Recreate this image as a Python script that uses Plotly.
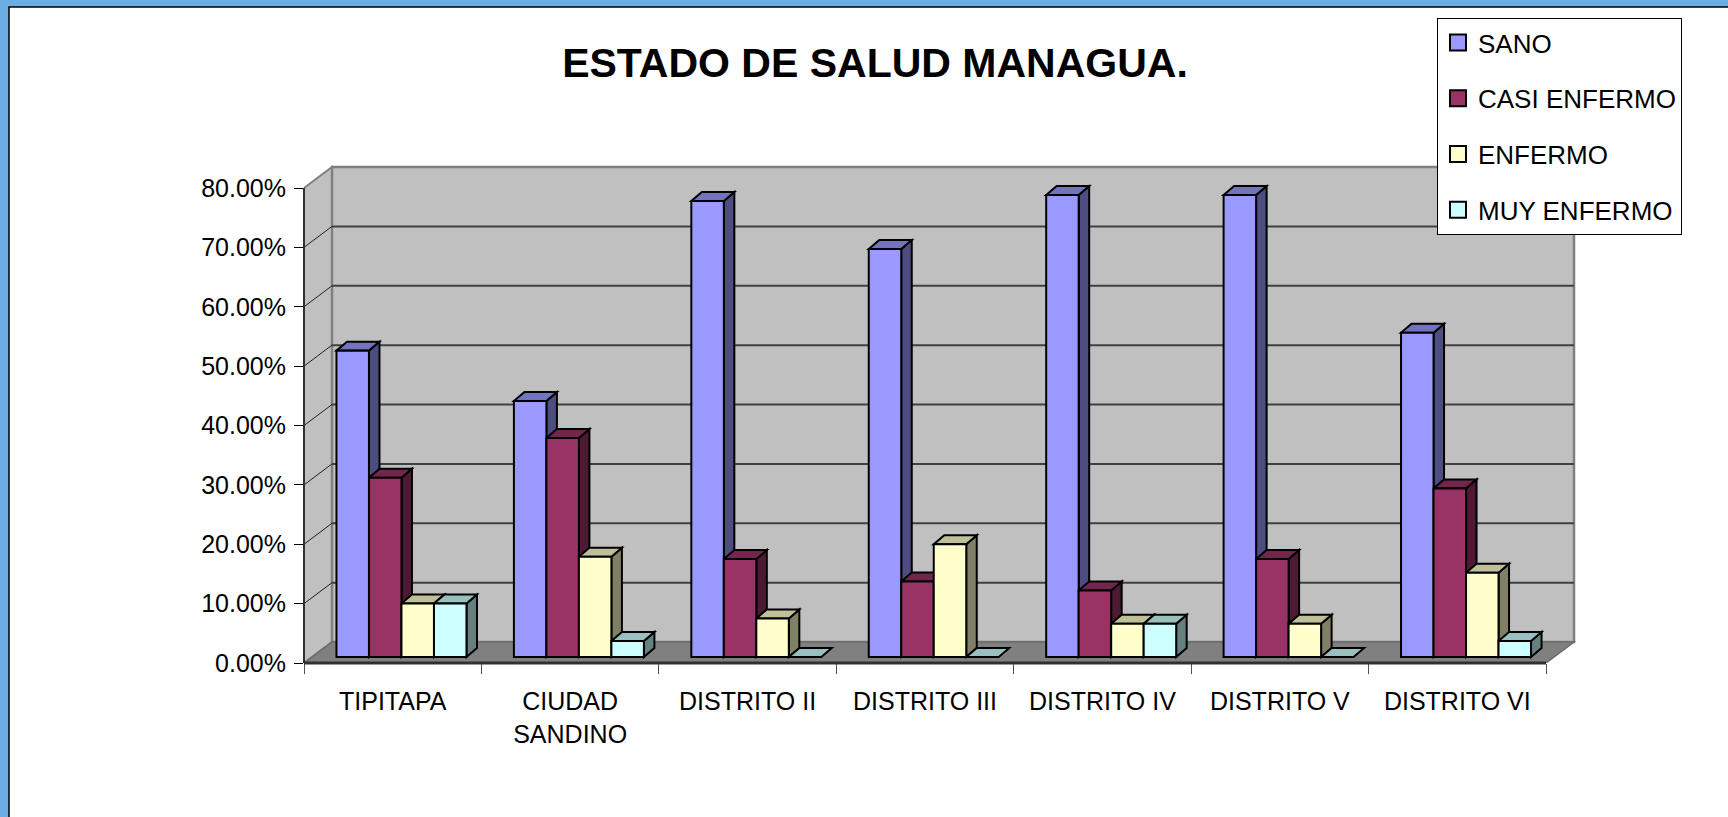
import plotly.graph_objects as go

# ---------------- data ----------------
categories = ["TIPITAPA", "CIUDAD<br>SANDINO", "DISTRITO II", "DISTRITO III",
              "DISTRITO IV", "DISTRITO V", "DISTRITO VI"]
series_names = ["SANO", "CASI ENFERMO", "ENFERMO", "MUY ENFERMO"]
sano = [0.516, 0.431, 0.768, 0.687, 0.778, 0.778, 0.546]
casi_enfermo = [0.302, 0.369, 0.165, 0.127, 0.112, 0.165, 0.284]
enfermo = [0.090, 0.169, 0.065, 0.190, 0.056, 0.056, 0.142]
muy_enfermo = [0.090, 0.027, 0.0, 0.0, 0.056, 0.0, 0.027]
y_tick_values = [0.0, 0.1, 0.2, 0.3, 0.4, 0.5, 0.6, 0.7, 0.8]
title_text = "ESTADO DE SALUD MANAGUA."

series_values = [sano, casi_enfermo, enfermo, muy_enfermo]

# ---------------- style ----------------
front_colors = ["#9999FF", "#993366", "#FFFFCC", "#CCFFFF"]
top_colors = ["#7373BF", "#73264D", "#BFBF99", "#99BFBF"]
side_colors = ["#4D4D80", "#4D1A33", "#808066", "#668080"]
FONT = "Liberation Sans, Arial, sans-serif"

W, H = 1728, 817
LEFT_PX = 304          # front vertical axis
FLOOR_PX = 663         # front floor line
CAT_PX = 177.43        # pixels per category
UNIT_PX = 593.75       # pixels per 1.0 (=100%)
DEPTH_DX_PX, DEPTH_DY_PX, PAD_PX = 28, 21, 3
BAR_W = 32.5 / CAT_PX
GROUP_START = -0.317
BAR_DX = 10.5 / CAT_PX
BAR_DY = 9 / UNIT_PX
BAR_BASE = 6 / UNIT_PX

ncat = len(categories)
ymax_tick = max(y_tick_values)
DX = DEPTH_DX_PX / CAT_PX
DY = DEPTH_DY_PX / UNIT_PX
x_lo = -0.5
x_hi = ncat - 0.5 + (DEPTH_DX_PX + PAD_PX) / CAT_PX
y_hi = ymax_tick + (DEPTH_DY_PX + PAD_PX) / UNIT_PX
plot_w = (x_hi - x_lo) * CAT_PX
plot_h = y_hi * UNIT_PX
m_l = LEFT_PX
m_r = W - LEFT_PX - plot_w
m_b = H - FLOOR_PX
m_t = FLOOR_PX - plot_h


def poly(pts):
    return "M " + " L ".join(f"{x:.5f},{y:.5f}" for x, y in pts) + " Z"


def px2paper_x(px):
    return (px - m_l) / plot_w


def px2paper_y(py):
    return (H - m_b - py) / plot_h


shapes = []
# white chart frame
shapes.append(dict(type="rect", xref="paper", yref="paper", layer="below",
                   x0=px2paper_x(9), x1=px2paper_x(W + 20),
                   y0=px2paper_y(H + 20), y1=px2paper_y(7),
                   fillcolor="white", line=dict(color="black", width=1.5)))

xr_end = ncat - 0.5
# side wall
shapes.append(dict(type="path", layer="below",
                   path=poly([(x_lo, 0), (x_lo + DX, DY), (x_lo + DX, ymax_tick + DY), (x_lo, ymax_tick)]),
                   fillcolor="#C0C0C0", line=dict(color="#808080", width=2)))
# back wall
shapes.append(dict(type="path", layer="below",
                   path=poly([(x_lo + DX, DY), (xr_end + DX, DY), (xr_end + DX, ymax_tick + DY), (x_lo + DX, ymax_tick + DY)]),
                   fillcolor="#C0C0C0", line=dict(color="#808080", width=2.5)))
# floor
shapes.append(dict(type="path", layer="below",
                   path=poly([(x_lo, 0), (xr_end, 0), (xr_end + DX, DY), (x_lo + DX, DY)]),
                   fillcolor="#808080", line=dict(color="#6a6a6a", width=1.5)))
# gridlines
for v in y_tick_values[1:-1]:
    shapes.append(dict(type="line", layer="below", x0=x_lo + DX, x1=xr_end + DX, y0=v + DY, y1=v + DY,
                       line=dict(color="#404040", width=2)))
    shapes.append(dict(type="line", layer="below", x0=x_lo, x1=x_lo + DX, y0=v, y1=v + DY,
                       line=dict(color="#202020", width=1)))

# bar side / top faces
for j, vals in enumerate(series_values):
    off = GROUP_START + j * BAR_W
    for i, v in enumerate(vals):
        xl = i + off
        xr = xl + BAR_W
        b = BAR_BASE
        t = b + v
        if v > 0:
            shapes.append(dict(type="path", layer="below",
                               path=poly([(xr, b), (xr + BAR_DX, b + BAR_DY), (xr + BAR_DX, t + BAR_DY), (xr, t)]),
                               fillcolor=side_colors[j], line=dict(color="black", width=2)))
        shapes.append(dict(type="path", layer="below",
                           path=poly([(xl, t), (xr, t), (xr + BAR_DX, t + BAR_DY), (xl + BAR_DX, t + BAR_DY)]),
                           fillcolor=top_colors[j], line=dict(color="black", width=2)))

# front axis lines
shapes.append(dict(type="line", layer="above", xref="paper", yref="y", x0=0, x1=0, y0=0, y1=ymax_tick,
                   line=dict(color="#303030", width=2)))
shapes.append(dict(type="line", layer="above", xref="x", yref="paper", x0=x_lo, x1=xr_end, y0=0, y1=0,
                   line=dict(color="#303030", width=3)))

fig = go.Figure()
for j, (name, vals) in enumerate(zip(series_names, series_values)):
    fig.add_trace(go.Bar(
        x=list(range(ncat)), y=vals, base=BAR_BASE, name=name,
        offset=GROUP_START + j * BAR_W, width=BAR_W,
        marker=dict(color=front_colors[j], line=dict(color="black", width=2)),
        legendgroup=name, showlegend=False,
        customdata=[c.replace("<br>", " ") for c in categories],
        hovertemplate="%{customdata}<br>" + name + ": %{y:.2%}<extra></extra>",
    ))
    fig.add_trace(go.Scatter(
        x=[None], y=[None], mode="markers", name=name, legendgroup=name,
        marker=dict(symbol="square", size=16, color=front_colors[j], line=dict(color="black", width=2)),
    ))

fig.update_layout(
    width=W, height=H,
    margin=dict(l=m_l, r=m_r, t=m_t, b=m_b, autoexpand=False),
    paper_bgcolor="#6AAEE4", plot_bgcolor="rgba(0,0,0,0)",
    barmode="overlay",
    shapes=shapes,
    title=dict(text=title_text, x=875 / W, xref="container", xanchor="center",
               y=1 - 63 / H, yref="container", yanchor="middle",
               font=dict(family=FONT, size=41, color="black", weight="bold")),
    font=dict(family=FONT, color="black"),
    legend=dict(x=px2paper_x(1437), y=px2paper_y(18), xanchor="left", yanchor="top",
                bgcolor="white", bordercolor="black", borderwidth=1,
                font=dict(family=FONT, size=26, color="black"),
                tracegroupgap=19, traceorder="grouped"),
    xaxis=dict(range=[x_lo, x_hi], tickmode="array", tickvals=list(range(ncat)), ticktext=categories,
               ticks="outside", ticklen=10, tickcolor="rgba(0,0,0,0)", showgrid=False, zeroline=False,
               showline=False, ticklabelstandoff=6,
               tickfont=dict(family=FONT, size=25, color="black"),
               minor=dict(tickmode="array", tickvals=[k - 0.5 for k in range(ncat + 1)],
                          ticks="outside", ticklen=10, tickcolor="#505050", tickwidth=1, showgrid=False),
               fixedrange=True),
    yaxis=dict(range=[0, y_hi], tickmode="array", tickvals=y_tick_values, tickformat=".2%",
               ticks="outside", ticklen=9, tickcolor="black", tickwidth=1, showgrid=False,
               zeroline=False, showline=False, ticklabelstandoff=3,
               tickfont=dict(family=FONT, size=25, color="black"), fixedrange=True),
)

fig.write_html("out.html", config={"displayModeBar": False},
               post_script="document.body.style.margin='0';document.body.style.overflow='hidden';")
